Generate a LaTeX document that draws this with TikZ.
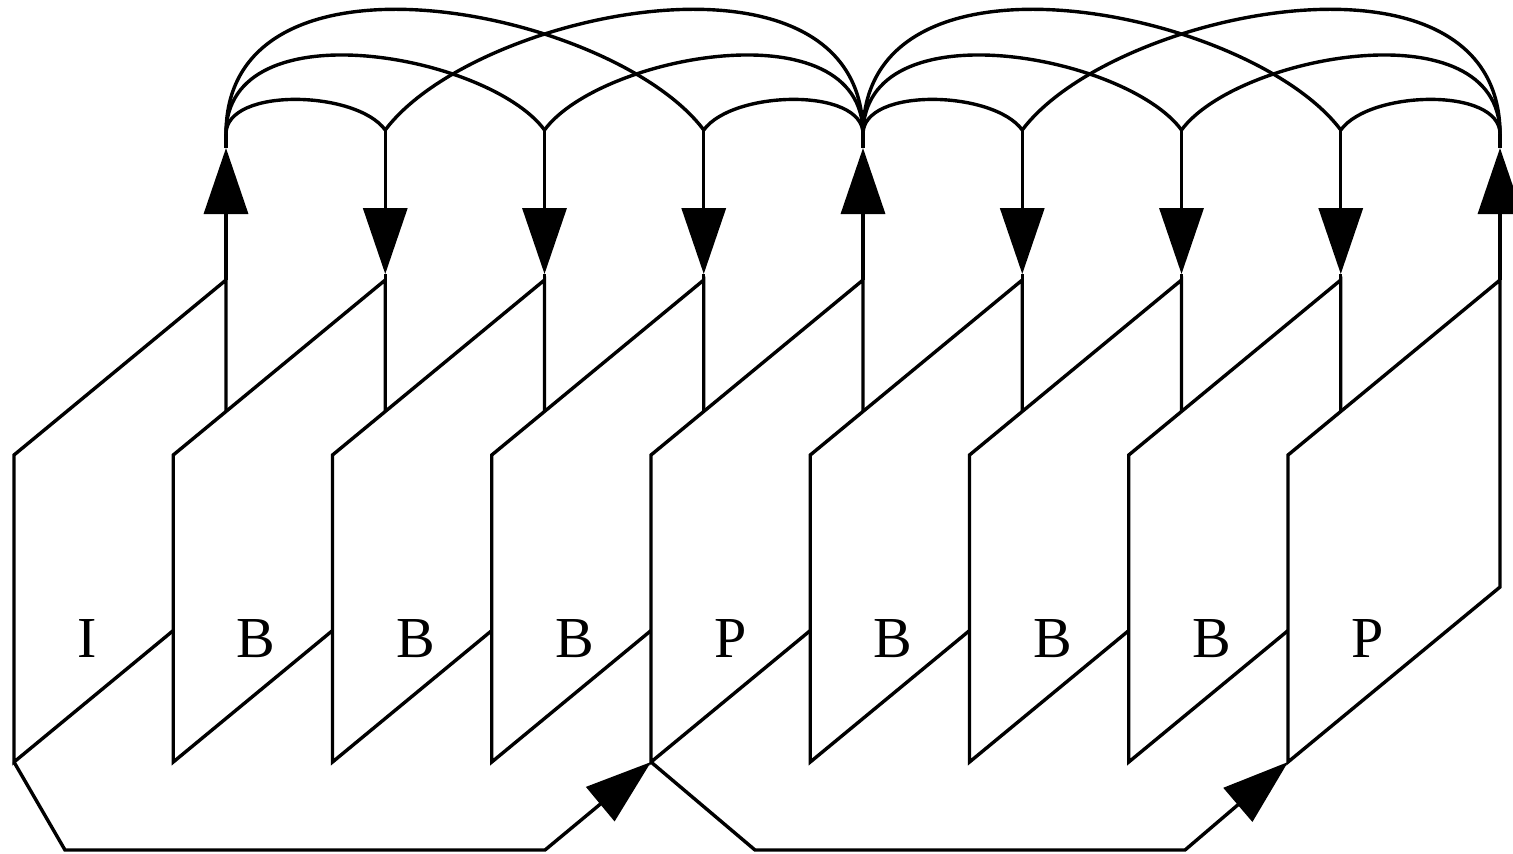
\documentclass[tikz,border=0pt]{standalone}
\usepackage{fontspec}
\setmainfont{Liberation Serif}
\usetikzlibrary{arrows.meta}
\begin{document}
\begin{tikzpicture}[x=0.5pt,y=-0.5pt,
  line width=1.7pt,
  frame/.style={draw=black, fill=white, line width=1.7pt},
  lbl/.style={anchor=base west, inner sep=0pt, font=\fontsize{29}{35}\selectfont},
  tip/.style={-{Triangle[length=33pt,width=22pt]}},
  link/.style={draw=black, line width=1.7pt}]
\useasboundingbox (0,0) rectangle (1513,853);
\fill[white] (0,0) rectangle (1513,853);
% frames
\foreach \i/\lab in {0/I,1/B,2/B,3/B,4/P,5/B,6/B,7/B,8/P} {
  \pgfmathsetmacro\xo{14+159.25*\i}
  \coordinate (bl\i) at (\xo,762);
  \coordinate (tl\i) at (\xo,455);
  \coordinate (tr\i) at (\xo+212,280);
  \coordinate (br\i) at (\xo+212,587);
  \draw[frame] (bl\i) -- (tl\i) -- (tr\i) -- (br\i) -- cycle;
  \node[lbl] (lab\i) at (\xo+62,657) {\lab};
}
% I / P shafts (arrow pointing up)
\foreach \i in {0,4,8} {
  \pgfmathsetmacro\xs{226+159.25*\i}
  \coordinate (j\i) at (\xs,134);
  \coordinate (a\i) at (\xs,148);
  \draw[link,tip] (tr\i) -- (a\i);
  \draw[link] (a\i) -- (j\i);
}
% B shafts (arrow pointing down)
\foreach \i in {1,2,3,5,6,7} {
  \pgfmathsetmacro\xs{226+159.25*\i}
  \coordinate (j\i) at (\xs,130);
  \coordinate (a\i) at (\xs,274);
  \draw[link,tip] (j\i) -- (a\i);
  \draw[link] (a\i) -- (tr\i);
}
% arcs over the top
\foreach \n/\f/\cy/\dx/\dy in {
  0/1/-47/-29/-40, 0/2/-128/-55/-75, 0/3/-203/-90/-120,
  4/3/-47/29/-40, 4/2/-128/55/-75, 4/1/-203/90/-120,
  4/5/-47/-29/-40, 4/6/-128/-55/-75, 4/7/-203/-90/-120,
  8/7/-47/29/-40, 8/6/-128/55/-75, 8/5/-203/90/-120} {
  \draw[link] (j\n) .. controls +(0,\cy) and +(\dx,\dy) .. (j\f);
}
% bottom connectors
\draw[link,tip] (bl0) -- (65,850) -- (545,850) -- (bl4);
\draw[link,tip] (bl4) -- (755,850) -- (1185,850) -- (bl8);
\end{tikzpicture}
\end{document}
